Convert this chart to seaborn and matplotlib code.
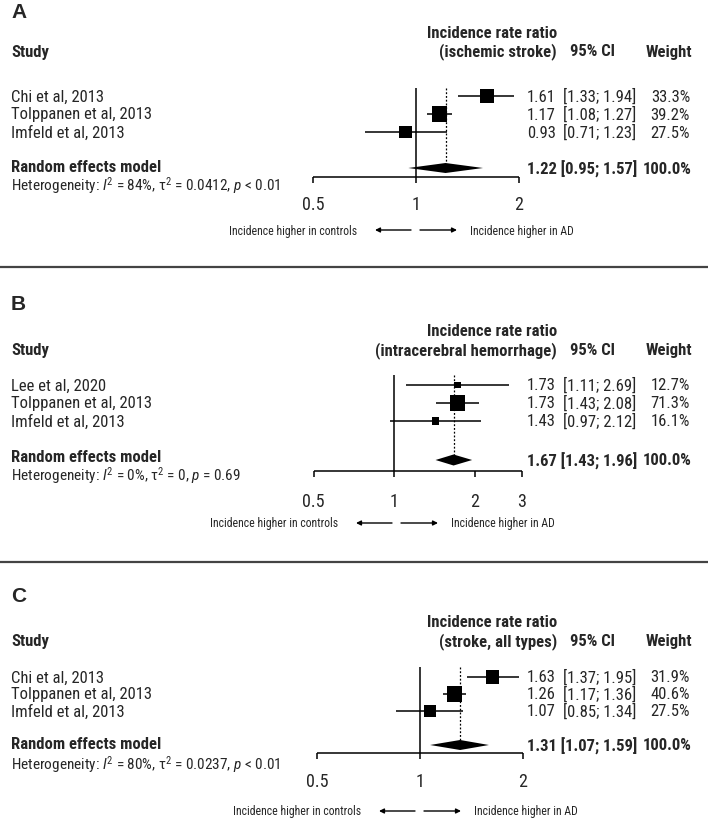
import numpy as np
import pandas as pd
import matplotlib
matplotlib.use("Agg")
import matplotlib.pyplot as plt
import seaborn as sns
from matplotlib.transforms import blended_transform_factory

# ---------------- data ----------------
panel_labels = ["A", "B", "C"]
outcomes = ["(ischemic stroke)", "(intracerebral hemorrhage)", "(stroke, all types)"]

studies_A = ["Chi et al, 2013", "Tolppanen et al, 2013", "Imfeld et al, 2013"]
irr_A = [1.61, 1.17, 0.93]
lo_A = [1.33, 1.08, 0.71]
hi_A = [1.94, 1.27, 1.23]
w_A = [33.3, 39.2, 27.5]
pooled_A = [1.22, 0.95, 1.57]
het_A = ["84%", "0.0412", "< 0.01"]
ticks_A = [0.5, 1, 2]

studies_B = ["Lee et al, 2020", "Tolppanen et al, 2013", "Imfeld et al, 2013"]
irr_B = [1.73, 1.73, 1.43]
lo_B = [1.11, 1.43, 0.97]
hi_B = [2.69, 2.08, 2.12]
w_B = [12.7, 71.3, 16.1]
pooled_B = [1.67, 1.43, 1.96]
het_B = ["0%", "0", "= 0.69"]
ticks_B = [0.5, 1, 2, 3]

studies_C = ["Chi et al, 2013", "Tolppanen et al, 2013", "Imfeld et al, 2013"]
irr_C = [1.63, 1.26, 1.07]
lo_C = [1.37, 1.17, 0.85]
hi_C = [1.95, 1.36, 1.34]
w_C = [31.9, 40.6, 27.5]
pooled_C = [1.31, 1.07, 1.59]
het_C = ["80%", "0.0237", "< 0.01"]
ticks_C = [0.5, 1, 2]

total_weight = "100.0%"
tick_labels = {0.5: "0.5", 1: "1", 2: "2", 3: "3"}

panels = [
    dict(studies=studies_A, irr=irr_A, lo=lo_A, hi=hi_A, w=w_A, pooled=pooled_A, het=het_A, ticks=ticks_A),
    dict(studies=studies_B, irr=irr_B, lo=lo_B, hi=hi_B, w=w_B, pooled=pooled_B, het=het_B, ticks=ticks_B),
    dict(studies=studies_C, irr=irr_C, lo=lo_C, hi=hi_C, w=w_C, pooled=pooled_C, het=het_C, ticks=ticks_C),
]

# ---------------- layout (pixels) ----------------
W, H = 708, 820
layout = [
    dict(cx=416, scale=103, label=13, hdr1=33, hdr2=52, row0=97, dy=18, re=169, retext=168,
         het=186, axis=178, tlab=205, arrows=231, vtop=89, acx=416, dh=5),
    dict(cx=394, scale=80.5, label=305, hdr1=332, hdr2=351, row0=386, dy=18, re=461, retext=458,
         het=476, axis=472, tlab=502, arrows=524, vtop=376, acx=397, dh=5.5),
    dict(cx=420, scale=103, label=597, hdr1=623, hdr2=642, row0=678, dy=17, re=746, retext=745,
         het=765, axis=754, tlab=782, arrows=812, vtop=668, acx=420, dh=5),
]
separators = [268, 563]

sns.set_theme(style="white")
FAM = ["Roboto Condensed", "DejaVu Sans"]
plt.rcParams["font.family"] = FAM
plt.rcParams["mathtext.fontset"] = "custom"
plt.rcParams["mathtext.rm"] = "Roboto Condensed"
plt.rcParams["mathtext.it"] = "Roboto Condensed:italic"
plt.rcParams["mathtext.bf"] = "Roboto Condensed:bold"

fig = plt.figure(figsize=(W / 100, H / 100), dpi=100)
fig.patch.set_facecolor("white")

FS = 12
BOX_MAX = 15.5

for k, (pd_, L) in enumerate(zip(panels, layout)):
    ax = fig.add_axes([0, 0, 1, 1])
    ax.patch.set_alpha(0)
    ax.set_xscale("log", base=2)
    trans = blended_transform_factory(ax.transAxes, ax.transData)

    n = len(pd_["studies"])
    ypos = [L["row0"] + i * L["dy"] for i in range(n)]
    df = pd.DataFrame(dict(study=pd_["studies"], irr=pd_["irr"], lo=pd_["lo"], hi=pd_["hi"],
                           w=pd_["w"], y=ypos))
    wmax = max(pd_["w"])
    sizes = {w: (BOX_MAX * np.sqrt(w / wmax) * 0.72) ** 2 for w in pd_["w"]}

    # reference line at 1 and dotted pooled line
    ax.vlines(1, L["vtop"], L["axis"], color="black", lw=1.1)
    est, plo, phi = pd_["pooled"]
    ax.vlines(est, L["vtop"], L["re"] - L["dh"], color="black", lw=0.9,
              linestyles=(0, (1.5, 1.5)))

    # CIs and boxes
    ax.hlines(df["y"], df["lo"], df["hi"], color="black", lw=1.1)
    sns.scatterplot(data=df, x="irr", y="y", size="w", sizes=sizes, marker="s",
                    color="black", linewidth=0, legend=False, ax=ax)

    # diamond
    ax.fill([plo, est, phi, est], [L["re"], L["re"] - L["dh"], L["re"], L["re"] + L["dh"]],
            color="black", lw=0)

    # x axis
    t = pd_["ticks"]
    ax.hlines(L["axis"], t[0], t[-1], color="black", lw=1.1)
    ax.vlines(t, L["axis"], L["axis"] + 6, color="black", lw=1.1)
    for tv in t:
        ax.text(tv, L["tlab"], tick_labels[tv], ha="center", va="center", fontsize=13)

    ax.set_xlim(2 ** (-L["cx"] / L["scale"]), 2 ** ((W - L["cx"]) / L["scale"]))
    ax.set_ylim(H, 0)
    ax.axis("off")

    # texts
    ax.text(11 / W, L["label"], panel_labels[k], transform=trans, ha="left", va="center",
            fontsize=15, fontweight="bold", family=["Liberation Sans", "DejaVu Sans"])
    ax.text(11 / W, L["hdr2"], "Study", transform=trans, ha="left", va="center",
            fontsize=FS, fontweight="bold")
    ax.text(557 / W, L["hdr1"], "Incidence rate ratio", transform=trans, ha="right",
            va="center", fontsize=FS, fontweight="bold")
    ax.text(557 / W, L["hdr2"], outcomes[k], transform=trans, ha="right", va="center",
            fontsize=FS, fontweight="bold")
    ax.text(570 / W, L["hdr2"], "95% CI", transform=trans, ha="left", va="center",
            fontsize=FS, fontweight="bold")
    ax.text(692 / W, L["hdr2"], "Weight", transform=trans, ha="right", va="center",
            fontsize=FS, fontweight="bold")

    for _, r in df.iterrows():
        ax.text(11 / W, r["y"], r["study"], transform=trans, ha="left", va="center", fontsize=FS)
        ax.text(527 / W, r["y"], f"{r['irr']:.2f}", transform=trans, ha="left", va="center",
                fontsize=FS)
        ax.text(563 / W, r["y"], f"[{r['lo']:.2f}; {r['hi']:.2f}]", transform=trans,
                ha="left", va="center", fontsize=FS)
        ax.text(690 / W, r["y"], f"{r['w']:.1f}%", transform=trans, ha="right", va="center",
                fontsize=FS)

    ax.text(11 / W, L["retext"], "Random effects model", transform=trans, ha="left",
            va="center", fontsize=FS, fontweight="bold")
    ax.text(527 / W, L["re"], f"{est:.2f} [{plo:.2f}; {phi:.2f}]", transform=trans,
            ha="left", va="center", fontsize=FS, fontweight="bold")
    ax.text(692 / W, L["re"], total_weight, transform=trans, ha="right",
            va="center", fontsize=FS, fontweight="bold")
    i2, tau2, pv = pd_["het"]
    ax.text(11 / W, L["het"],
            "Heterogeneity: $I^2$ = " + i2 + r", $\mathrm{\tau}^2$ = " + tau2 + ", $p$ " + pv,
            transform=trans, ha="left", va="center", fontsize=11)

    # direction arrows
    acx = L["acx"]
    ax.annotate("", xy=((acx - 41) / W, L["arrows"]), xytext=((acx - 5) / W, L["arrows"]),
                xycoords=trans, textcoords=trans,
                arrowprops=dict(arrowstyle="-|>", lw=1, color="black", mutation_scale=7,
                                shrinkA=0, shrinkB=0))
    ax.annotate("", xy=((acx + 41) / W, L["arrows"]), xytext=((acx + 4) / W, L["arrows"]),
                xycoords=trans, textcoords=trans,
                arrowprops=dict(arrowstyle="-|>", lw=1, color="black", mutation_scale=7,
                                shrinkA=0, shrinkB=0))
    ax.text((acx - 59) / W, L["arrows"], "Incidence higher in controls", transform=trans,
            ha="right", va="center", fontsize=8.5)
    ax.text((acx + 54) / W, L["arrows"], "Incidence higher in AD", transform=trans,
            ha="left", va="center", fontsize=8.5)

    if k < len(separators):
        ax.axhline(separators[k], color="#444444", lw=1.6)

fig.savefig("out.png", dpi=100, facecolor="white")
